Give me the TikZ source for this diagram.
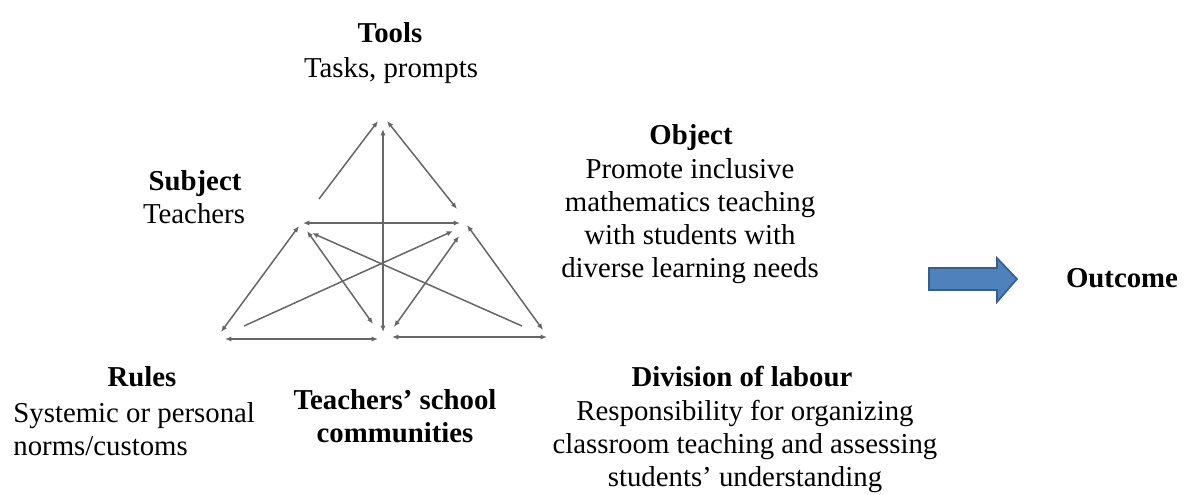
\documentclass[tikz,border=0pt]{standalone}
\usepackage{fontspec}
\setmainfont{Liberation Serif}
\usetikzlibrary{arrows.meta,positioning}
\definecolor{arrowblue}{RGB}{79,129,189}
\definecolor{arrowrim}{RGB}{56,93,138}
\tikzset{
  >={Latex[length=3.2pt,width=2.6pt]},
  link/.style={draw=black!60,line width=0.75pt},
  every node/.style={font=\fontsize{14.4pt}{16.5pt}\selectfont},
  head/.style={font=\fontsize{14.4pt}{16.5pt}\selectfont\bfseries,inner sep=0pt,anchor=base},
  body/.style={inner sep=0pt,align=center,anchor=base}
}
\begin{document}
\begin{tikzpicture}[x=0.5pt,y=-0.5pt]
  \useasboundingbox (0,0) rectangle (1184,494);

  % corner ends
  \coordinate (ta) at (378,121);
  \coordinate (tb) at (387,121);
  \coordinate (tc) at (383,129);
  \coordinate (sa) at (319,199);
  \coordinate (sb) at (303,223);
  \coordinate (sc) at (299,226);
  \coordinate (sd) at (307,231);
  \coordinate (se) at (312,233);
  \coordinate (oa) at (457,209);
  \coordinate (ob) at (460,223);
  \coordinate (oc) at (467,225);
  \coordinate (od) at (459,236);
  \coordinate (oe) at (453,231);
  \coordinate (ra) at (221,332);
  \coordinate (rb) at (244,326);
  \coordinate (rc) at (225,339);
  \coordinate (ca) at (383,332);
  \coordinate (cb) at (373,324);
  \coordinate (cc) at (394,327);
  \coordinate (cd) at (378,339);
  \coordinate (ce) at (392,337);
  \coordinate (da) at (543,330);
  \coordinate (db) at (522,326);
  \coordinate (dc) at (547,337);

  \draw[link,->] (sa) -- (ta);
  \draw[link,<->] (tb) -- (oa);
  \draw[link,<->] (tc) -- (ca);
  \draw[link,<->] (sb) -- (ob);
  \draw[link,<->] (sc) -- (ra);
  \draw[link,<->] (oc) -- (da);
  \draw[link,<->] (sd) -- (cb);
  \draw[link,<->] (od) -- (cc);
  \draw[link,->] (db) -- (se);
  \draw[link,->] (rb) -- (oe);
  \draw[link,<->] (rc) -- (cd);
  \draw[link,<->] (ce) -- (dc);

  \node[head] (tools) at (390,42) {Tools};
  \node[body] (toolstxt) at (391,77) {Tasks, prompts};
  \node[head] (subject) at (195,190) {Subject};
  \node[body] (subjecttxt) at (194,223) {Teachers};
  \node[head] (object) at (691,144) {Object};
  \node[body] (objecttxt) at (690,277) {Promote inclusive\\mathematics teaching\\with students with\\diverse learning needs};
  \node[head] (rules) at (142,386) {Rules};
  \node[body,align=left,anchor=base west] (rulestxt) at (13,455) {Systemic or personal\\norms/customs};
  \node[head,align=center] (community) at (395,442) {Teachers’ school\\communities};
  \node[head] (division) at (742,386) {Division of labour};
  \node[body] (divisiontxt) at (745,486) {Responsibility for organizing\\classroom teaching and assessing\\students’ understanding};
  \node[head] (outcome) at (1122,287) {Outcome};

  \filldraw[fill=arrowblue,draw=arrowrim,line width=0.8pt]
    (929,268) -- (997,268) -- (997,258) -- (1017,279) -- (997,302) -- (997,290) -- (929,290) -- cycle;
\end{tikzpicture}
\end{document}
